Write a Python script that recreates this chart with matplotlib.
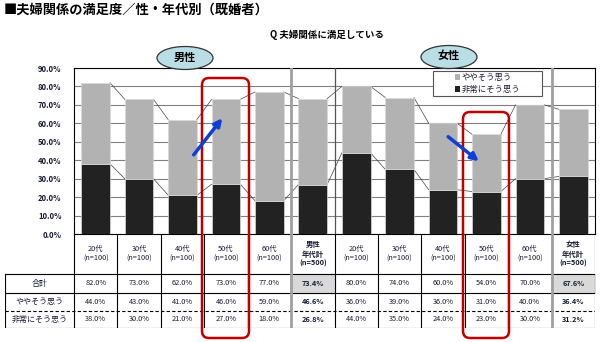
import matplotlib
matplotlib.use('Agg')
import matplotlib.pyplot as plt
from matplotlib.patches import Ellipse, FancyBboxPatch, Patch, Rectangle
import numpy as np

plt.rcParams['font.family'] = ['Noto Sans CJK JP', 'DejaVu Sans']

# data
groups = ['20代\n(n=100)', '30代\n(n=100)', '40代\n(n=100)', '50代\n(n=100)', '60代\n(n=100)',
          '男性\n年代計\n(n=500)',
          '20代\n(n=100)', '30代\n(n=100)', '40代\n(n=100)', '50代\n(n=100)', '60代\n(n=100)',
          '女性\n年代計\n(n=500)']
total = [82.0, 73.0, 62.0, 73.0, 77.0, 73.4, 80.0, 74.0, 60.0, 54.0, 70.0, 67.6]
somewhat = [44.0, 43.0, 41.0, 46.0, 59.0, 46.6, 36.0, 39.0, 36.0, 31.0, 40.0, 36.4]
very = [38.0, 30.0, 21.0, 27.0, 18.0, 26.8, 44.0, 35.0, 24.0, 23.0, 30.0, 31.2]
row_labels = ['合計', 'ややそう思う', '非常にそう思う']
total_cols = [5, 11]
yticks = [0, 10, 20, 30, 40, 50, 60, 70, 80, 90]

grey = '#b2b2b2'
black = '#222222'
txt = '#1a1a33'

fig = plt.figure(figsize=(6, 3.42), dpi=100)
W, H = 600, 342

# main chart, placed in pixel coords
ax = fig.add_axes([74 / W, (H - 234) / H, 521 / W, 166 / H])
x = np.arange(len(total))
bw = 0.66
ax.bar(x, very, bw, color=black, edgecolor='#d8d8d8', linewidth=0.5, zorder=3)
ax.bar(x, somewhat, bw, bottom=very, color=grey, edgecolor='#d8d8d8', linewidth=0.5, zorder=3)
for i in range(len(x) - 1):
    ax.plot([x[i] + bw / 2, x[i + 1] - bw / 2], [very[i], very[i + 1]], color='#444444', lw=0.5, zorder=2)
    ax.plot([x[i] + bw / 2, x[i + 1] - bw / 2], [total[i], total[i + 1]], color='#444444', lw=0.5, zorder=2)
ax.set_xlim(-0.5, 11.5)
ax.set_ylim(0, 90)
ax.set_yticks(yticks)
ax.set_yticklabels([f'{v:.1f}%' for v in yticks], fontsize=5.5, color=txt, fontweight='bold')
ax.set_xticks([])
ax.tick_params(axis='y', length=0, pad=9)
ax.grid(axis='y', color='#808080', lw=0.8, zorder=0)
for s in ax.spines.values():
    s.set_color('black')
    s.set_linewidth(0.8)
ax.axvline(4.5, color='#a0a0a0', lw=2, zorder=4)
ax.axvline(5.5, color='#555555', lw=0.9, zorder=4)
ax.axvline(10.5, color='#a0a0a0', lw=2, zorder=4)

# legend box
ax.add_patch(Rectangle((0.689, 0.831), 0.209, 0.151, transform=ax.transAxes,
                       facecolor='white', edgecolor='#555555', lw=0.8, zorder=5))
handles = [Patch(facecolor=grey, label='ややそう思う'), Patch(facecolor=black, label='非常にそう思う')]
leg = ax.legend(handles=handles, loc='center', bbox_to_anchor=(0.689, 0.831, 0.209, 0.151),
                fontsize=6, frameon=False,
                handlelength=0.6, handleheight=0.6, handletextpad=0.15, borderpad=0.2, labelspacing=0.35,
                labelcolor=txt)
leg.set_zorder(6)

# table under the chart
tab = fig.add_axes([5 / W, (H - 328) / H, 590 / W, 94 / H])
cw = 521 / 12
left = -0.5 - 69 / cw
tab.set_xlim(left, 11.5)
tab.set_ylim(94, 0)
tab.axis('off')
rows_y = [40, 58.5, 76.5, 94]
tab.plot([left, 11.5], [40, 40], color='black', lw=0.8)
tab.plot([left, 11.5], [58.5, 58.5], color='black', lw=0.8)
tab.plot([left, 11.5], [76.5, 76.5], color='black', lw=0.8, ls=(0, (3, 2)))
tab.plot([left, 11.5], [94, 94], color='black', lw=0.8)
tab.plot([left, left], [40, 94], color='black', lw=0.8)
for b in np.arange(-0.5, 12, 1):
    if b in (4.5, 10.5):
        tab.plot([b, b], [0, 94], color='#a0a0a0', lw=2)
    else:
        tab.plot([b, b], [0, 94], color='black', lw=0.8)
for c in total_cols:
    tab.fill_between([c - 0.5, c + 0.5], 40, 58.5, color='#d9d9d9', zorder=0)

for i, g in enumerate(groups):
    bold = i in total_cols
    tab.text(i, 20, g, ha='center', va='center', fontsize=5.3, color=txt,
             fontweight='bold' if bold else 'normal', linespacing=1.35)
    for r, vals in enumerate([total, somewhat, very]):
        yc = (rows_y[r] + rows_y[r + 1]) / 2
        tab.text(i, yc, f'{vals[i]:.1f}%', ha='center', va='center', fontsize=5.3,
                 color=txt, fontweight='bold' if bold else 'normal')
for r, lab in enumerate(row_labels):
    yc = (rows_y[r] + rows_y[r + 1]) / 2
    tab.text(left + 69 / cw / 2, yc, lab, ha='center', va='center', fontsize=5.8, color=txt)

# overlay for titles, callouts
ov = fig.add_axes([0, 0, 1, 1], zorder=10)
ov.set_xlim(0, W)
ov.set_ylim(H, 0)
ov.axis('off')
ov.patch.set_alpha(0)
ov.text(4, 10, '■夫婦関係の満足度／性・年代別（既婚者）', fontsize=9.5, fontweight='bold', va='center')
ov.text(327, 35, 'Q 夫婦関係に満足している', ha='center', va='center', fontsize=6.8, fontweight='bold')
for cx, cy, lab in [(185, 58, '男性'), (449, 57, '女性')]:
    ov.add_patch(Ellipse((cx, cy), 56, 23, facecolor='#b9dee6', edgecolor='#333333', lw=0.9))
    ov.text(cx, cy - 1, lab, ha='center', va='center', fontsize=8, fontweight='bold')
for bx, by, bwid, bh in [(202, 78, 47, 260), (463, 112, 46, 226)]:
    ov.add_patch(FancyBboxPatch((bx, by), bwid, bh, boxstyle='round,pad=0,rounding_size=7',
                                fill=False, edgecolor='#c00000', lw=1.8))
ov.annotate('', xy=(224, 116), xytext=(192, 157),
            arrowprops=dict(arrowstyle='-|>', color='#0b3fd6', lw=2.5, mutation_scale=11))
ov.annotate('', xy=(481, 163), xytext=(446, 135),
            arrowprops=dict(arrowstyle='-|>', color='#0b3fd6', lw=2.5, mutation_scale=11))

fig.savefig('out.png', dpi=100)
